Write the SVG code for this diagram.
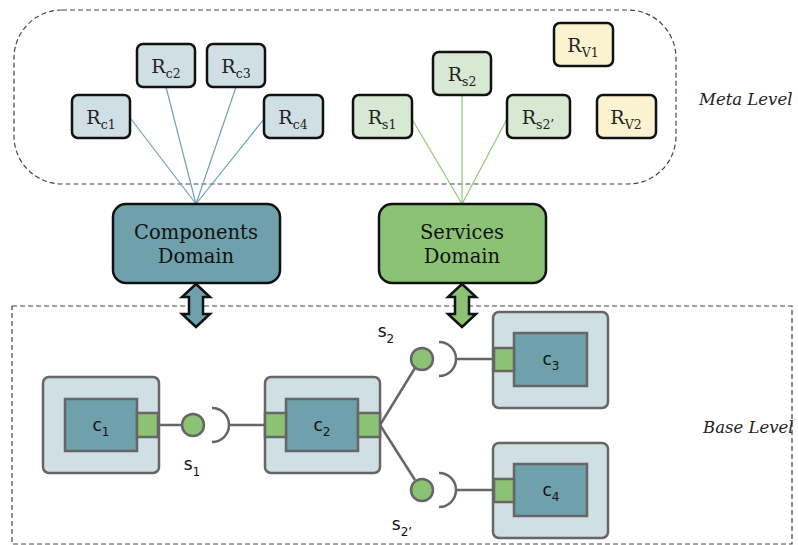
<svg xmlns="http://www.w3.org/2000/svg" width="798" height="545" viewBox="0 0 798 545">
<style>
.lvl{fill:none;stroke:#444;stroke-width:1.2;stroke-dasharray:5 3}
.rc{fill:#cfdfe4;stroke:#111;stroke-width:2.5}
.rs{fill:#d7e8d3;stroke:#111;stroke-width:2.5}
.rv{fill:#fbf3cf;stroke:#111;stroke-width:2.5}
.rt{font-family:"DejaVu Serif",serif;font-size:19px;fill:#222;text-anchor:middle}
.sub{font-size:12.5px}
.dom{font-family:"DejaVu Serif",serif;font-size:19.5px;fill:#111;text-anchor:middle}
.lbl{font-family:"DejaVu Serif",serif;font-style:italic;font-size:16.5px;fill:#222}
.outer{fill:#cfdfe4;stroke:#666;stroke-width:2.5}
.inner{fill:#6ea1ac;stroke:#666;stroke-width:2.5}
.port{fill:#8cc274;stroke:#666;stroke-width:2.5}
.ct{font-family:"DejaVu Sans",sans-serif;font-size:17px;fill:#111;text-anchor:middle}
.cs{font-size:12px}
.wire{stroke:#666;stroke-width:2.5;fill:none}
.tl{stroke:#6ea4b0;stroke-width:1.2}
.gl{stroke:#8dc878;stroke-width:1.2}
.ball{fill:#8cc274;stroke:#666;stroke-width:2.5}
.arr{stroke:#111;stroke-width:2.5;stroke-linejoin:miter}
</style>
<rect class="lvl" x="14" y="10" width="662" height="174" rx="48"/>
<rect class="lvl" x="12" y="306" width="780" height="238"/>
<text class="lbl" x="699" y="105">Meta Level</text>
<text class="lbl" x="703" y="433">Base Level</text>
<g id="connectors">
<line class="tl" x1="131" y1="119" x2="196" y2="204"/>
<line class="tl" x1="166" y1="87" x2="196" y2="204"/>
<line class="tl" x1="236" y1="87" x2="196" y2="204"/>
<line class="tl" x1="264" y1="119" x2="196" y2="204"/>
<line class="gl" x1="412" y1="119" x2="462" y2="204"/>
<line class="gl" x1="462" y1="95" x2="462" y2="204"/>
<line class="gl" x1="507" y1="119" x2="462" y2="204"/>
<polygon class="arr" fill="#6ea1ac" points="196,284 210,297 203,297 203,314 210,314 196,327 182,314 189,314 189,297 182,297"/>
<polygon class="arr" fill="#8cc274" points="462,284 476,297 469,297 469,314 476,314 462,327 448,314 455,314 455,297 448,297"/>
<line class="wire" x1="158" y1="425" x2="182" y2="425"/>
<path class="wire" d="M212,408 A17,17 0 0 1 212,442"/>
<line class="wire" x1="229" y1="425" x2="265" y2="425"/>
<line class="wire" x1="380" y1="425" x2="415" y2="368"/>
<line class="wire" x1="380" y1="425" x2="415" y2="480"/>
<path class="wire" d="M439,342 A17,17 0 0 1 439,376"/>
<line class="wire" x1="456" y1="359" x2="494" y2="359"/>
<path class="wire" d="M439,473 A17,17 0 0 1 439,507"/>
<line class="wire" x1="456" y1="490" x2="494" y2="490"/>
<circle class="ball" cx="193" cy="425" r="11"/>
<circle class="ball" cx="422" cy="359" r="11"/>
<circle class="ball" cx="422" cy="490" r="11"/>
</g>
<g id="Rc1"><rect class="rc" x="72" y="95" width="58" height="43" rx="6"/><text class="rt" x="101" y="124">R<tspan class="sub" dy="5">c1</tspan></text></g>
<g id="Rc2"><rect class="rc" x="137" y="44" width="58" height="43" rx="6"/><text class="rt" x="166" y="73">R<tspan class="sub" dy="5">c2</tspan></text></g>
<g id="Rc3"><rect class="rc" x="207" y="44" width="58" height="43" rx="6"/><text class="rt" x="236" y="73">R<tspan class="sub" dy="5">c3</tspan></text></g>
<g id="Rc4"><rect class="rc" x="264" y="95" width="59" height="43" rx="6"/><text class="rt" x="293" y="124">R<tspan class="sub" dy="5">c4</tspan></text></g>
<g id="Rs1"><rect class="rs" x="353" y="95" width="59" height="43" rx="6"/><text class="rt" x="382" y="124">R<tspan class="sub" dy="5">s1</tspan></text></g>
<g id="Rs2"><rect class="rs" x="433" y="52" width="58" height="43" rx="6"/><text class="rt" x="462" y="81">R<tspan class="sub" dy="5">s2</tspan></text></g>
<g id="Rs2p"><rect class="rs" x="507" y="95" width="63" height="43" rx="6"/><text class="rt" x="538" y="124">R<tspan class="sub" dy="5">s2’</tspan></text></g>
<g id="Rv1"><rect class="rv" x="554" y="23" width="59" height="43" rx="6"/><text class="rt" x="583" y="52">R<tspan class="sub" dy="5">V1</tspan></text></g>
<g id="Rv2"><rect class="rv" x="597" y="95" width="59" height="43" rx="6"/><text class="rt" x="626" y="124">R<tspan class="sub" dy="5">V2</tspan></text></g>
<g id="components-domain"><rect x="113" y="204" width="167" height="79" rx="13" fill="#6ea1ac" stroke="#111" stroke-width="2.5"/><text class="dom" x="196" y="239">Components</text><text class="dom" x="196" y="263">Domain</text></g>
<g id="services-domain"><rect x="379" y="204" width="167" height="79" rx="13" fill="#8cc274" stroke="#111" stroke-width="2.5"/><text class="dom" x="462" y="239">Services</text><text class="dom" x="462" y="263">Domain</text></g>
<g id="c1"><rect class="outer" x="43" y="377" width="116" height="96" rx="6"/><rect class="inner" x="65" y="399" width="72" height="52"/><rect class="port" x="137" y="413" width="21" height="24"/><text class="ct" x="101" y="431">c<tspan class="cs" dy="5">1</tspan></text></g>
<g id="c2"><rect class="outer" x="265" y="377" width="115" height="96" rx="6"/><rect class="inner" x="286" y="399" width="72" height="52"/><rect class="port" x="265" y="413" width="21" height="24"/><rect class="port" x="358" y="413" width="22" height="24"/><text class="ct" x="322" y="431">c<tspan class="cs" dy="5">2</tspan></text></g>
<g id="c3"><rect class="outer" x="493" y="312" width="115" height="96" rx="6"/><rect class="inner" x="514" y="333" width="73" height="53"/><rect class="port" x="494" y="348" width="20" height="23"/><text class="ct" x="551" y="365">c<tspan class="cs" dy="5">3</tspan></text></g>
<g id="c4"><rect class="outer" x="493" y="443" width="115" height="95" rx="6"/><rect class="inner" x="514" y="464" width="73" height="52"/><rect class="port" x="494" y="479" width="20" height="23"/><text class="ct" x="551" y="496">c<tspan class="cs" dy="5">4</tspan></text></g>
<g id="s-labels">
<text class="ct" x="192" y="470">s<tspan class="cs" dy="6">1</tspan></text>
<text class="ct" x="386" y="337">s<tspan class="cs" dy="6">2</tspan></text>
<text class="ct" x="402" y="530">s<tspan class="cs" dy="6">2’</tspan></text>
</g>
</svg>
